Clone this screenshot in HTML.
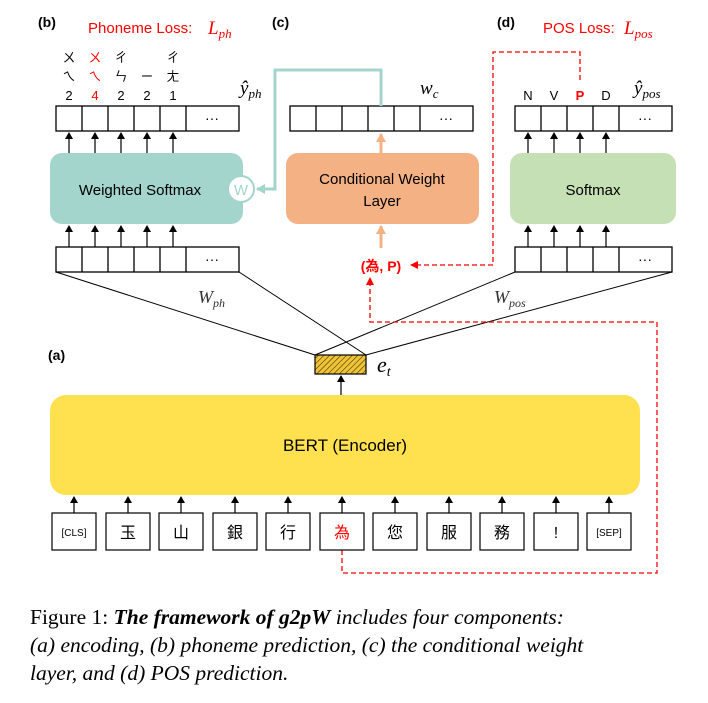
<!DOCTYPE html>
<html><head><meta charset="utf-8"><style>
body{margin:0;background:#fff;width:708px;height:703px;overflow:hidden}
svg{display:block}
.s{font-family:"Liberation Sans","Noto Sans CJK TC",sans-serif}
.m{font-family:"Liberation Serif",serif;font-style:italic}
</style></head><body>
<svg width="708" height="703" viewBox="0 0 708 703" xmlns="http://www.w3.org/2000/svg">
<defs>
<marker id="ab" markerUnits="userSpaceOnUse" markerWidth="7" markerHeight="8" refX="6" refY="4" orient="auto"><path d="M0,0 L7,4 L0,8z" fill="#000"/></marker>
<marker id="ar" markerUnits="userSpaceOnUse" markerWidth="8" markerHeight="8" refX="7" refY="4" orient="auto"><path d="M0,0 L8,4 L0,8z" fill="#f00"/></marker>
<marker id="ao" markerUnits="userSpaceOnUse" markerWidth="9" markerHeight="10" refX="8" refY="5" orient="auto"><path d="M0,0 L9,5 L0,10z" fill="#f4b183"/></marker>
<marker id="at" markerUnits="userSpaceOnUse" markerWidth="9" markerHeight="10" refX="8" refY="5" orient="auto"><path d="M0,0 L9,5 L0,10z" fill="#a3d5cc"/></marker>
<pattern id="h" width="4" height="4" patternUnits="userSpaceOnUse" patternTransform="rotate(45)"><rect width="4" height="4" fill="#f2c530"/><line x1="0" y1="0" x2="0" y2="4" stroke="#333" stroke-width="1.2"/></pattern>
</defs>
<g class="s" font-weight="bold" font-size="14">
<text x="38" y="27">(b)</text><text x="272" y="27">(c)</text><text x="497" y="27">(d)</text><text x="48" y="360">(a)</text>
</g>
<text x="88" y="33" class="s" font-size="15" fill="#f00">Phoneme Loss:</text>
<text x="208" y="34" class="m" font-size="19" fill="#f00">L<tspan font-size="13" dy="4">ph</tspan></text>
<text x="543" y="33" class="s" font-size="15" fill="#f00">POS Loss:</text>
<text x="624" y="34" class="m" font-size="19" fill="#f00">L<tspan font-size="13" dy="4">pos</tspan></text>
<g class="s" font-size="13" text-anchor="middle">
<text x="69" y="62">ㄨ</text><text x="69" y="81">ㄟ</text><text x="69" y="100">2</text>
<g fill="#f00"><text x="95" y="62">ㄨ</text><text x="95" y="81">ㄟ</text><text x="95" y="100">4</text></g>
<text x="121" y="62">ㄔ</text><text x="121" y="81">ㄣ</text><text x="121" y="100">2</text>
<text x="147" y="81">ㄧ</text><text x="147" y="100">2</text>
<text x="173" y="62">ㄔ</text><text x="173" y="81">ㄤ</text><text x="173" y="100">1</text>
<text x="528" y="100">N</text><text x="554" y="100">V</text><text x="580" y="100" fill="#f00" font-weight="bold">P</text><text x="606" y="100">D</text>
</g>
<text x="240" y="94" class="m" font-size="19">ŷ<tspan font-size="13" dy="4">ph</tspan></text>
<text x="420" y="94" class="m" font-size="19">w<tspan font-size="13" dy="4">c</tspan></text>
<text x="634" y="94" class="m" font-size="19">ŷ<tspan font-size="13" dy="4">pos</tspan></text>
<g fill="none" stroke="#000" stroke-width="1.3">
<rect x="56" y="106" width="183" height="25"/><path d="M82,106v25M108,106v25M134,106v25M160,106v25M186,106v25"/>
<rect x="56" y="247" width="183" height="25"/><path d="M82,247v25M108,247v25M134,247v25M160,247v25M186,247v25"/>
<rect x="290" y="106" width="183" height="25"/><path d="M316,106v25M342,106v25M368,106v25M394,106v25M420,106v25"/>
<rect x="515" y="106" width="157" height="25"/><path d="M541,106v25M567,106v25M593,106v25M619,106v25"/>
<rect x="515" y="247" width="157" height="25"/><path d="M541,247v25M567,247v25M593,247v25M619,247v25"/>
<path d="M56,272L315,355M239,272L366,355M515,272L315,355M672,272L366,355" stroke-width="1"/>
</g>
<g class="s" font-size="14" text-anchor="middle"><text x="212" y="123">···</text><text x="212" y="264">···</text><text x="446" y="123">···</text><text x="645" y="123">···</text><text x="645" y="264">···</text></g>
<rect x="50" y="153" width="193" height="71" rx="12" fill="#a3d5cc"/>
<text x="140" y="195" class="s" font-size="15" text-anchor="middle">Weighted Softmax</text>
<path d="M381,106V70H275V189H257" fill="none" stroke="#a3d5cc" stroke-width="3" marker-end="url(#at)"/>
<circle cx="241" cy="189" r="13" fill="#fff" stroke="#a3d5cc" stroke-width="2"/>
<text x="241" y="195" class="s" font-size="15" text-anchor="middle" fill="#a3d5cc">W</text>
<rect x="286" y="153" width="193" height="71" rx="12" fill="#f4b183"/>
<text x="382" y="184" class="s" font-size="15" text-anchor="middle">Conditional Weight</text>
<text x="382" y="206" class="s" font-size="15" text-anchor="middle">Layer</text>
<g stroke="#f4b183" stroke-width="3" marker-end="url(#ao)">
<line x1="381" y1="153" x2="381" y2="134"/><line x1="381" y1="248" x2="381" y2="226"/>
</g>
<rect x="510" y="153" width="166" height="71" rx="12" fill="#c5e0b4"/>
<text x="593" y="195" class="s" font-size="15" text-anchor="middle">Softmax</text>
<g stroke="#000" stroke-width="1.2" marker-end="url(#ab)">
<line x1="69" y1="153" x2="69" y2="133"/><line x1="95" y1="153" x2="95" y2="133"/><line x1="121" y1="153" x2="121" y2="133"/><line x1="147" y1="153" x2="147" y2="133"/><line x1="173" y1="153" x2="173" y2="133"/>
<line x1="69" y1="247" x2="69" y2="226"/><line x1="95" y1="247" x2="95" y2="226"/><line x1="121" y1="247" x2="121" y2="226"/><line x1="147" y1="247" x2="147" y2="226"/><line x1="173" y1="247" x2="173" y2="226"/>
<line x1="528" y1="153" x2="528" y2="133"/><line x1="554" y1="153" x2="554" y2="133"/><line x1="580" y1="153" x2="580" y2="133"/><line x1="606" y1="153" x2="606" y2="133"/>
<line x1="528" y1="247" x2="528" y2="226"/><line x1="554" y1="247" x2="554" y2="226"/><line x1="580" y1="247" x2="580" y2="226"/><line x1="606" y1="247" x2="606" y2="226"/>
<line x1="341" y1="395" x2="341" y2="376"/>
<line x1="74" y1="513" x2="74" y2="497"/><line x1="128" y1="513" x2="128" y2="497"/><line x1="181" y1="513" x2="181" y2="497"/><line x1="235" y1="513" x2="235" y2="497"/><line x1="288" y1="513" x2="288" y2="497"/><line x1="342" y1="513" x2="342" y2="497"/><line x1="395" y1="513" x2="395" y2="497"/><line x1="449" y1="513" x2="449" y2="497"/><line x1="502" y1="513" x2="502" y2="497"/><line x1="556" y1="513" x2="556" y2="497"/><line x1="609" y1="513" x2="609" y2="497"/>
</g>
<text x="381" y="271" class="s" font-size="14" font-weight="bold" fill="#f00" text-anchor="middle">(為, P)</text>
<g fill="none" stroke="#f00" stroke-width="1.3" stroke-dasharray="5,3">
<path d="M580,80V52H493V265H411" marker-end="url(#ar)"/>
<path d="M342,550V573H657V322H370V278" marker-end="url(#ar)"/>
</g>
<text x="198" y="303" class="m" font-size="18" fill="#333">W<tspan font-size="12" dy="4">ph</tspan></text>
<text x="494" y="303" class="m" font-size="18" fill="#333">W<tspan font-size="12" dy="4">pos</tspan></text>
<rect x="315" y="355" width="51" height="19" fill="url(#h)" stroke="#000" stroke-width="1.2"/>
<text x="377" y="372" class="m" font-size="22">e<tspan font-size="14" dy="4">t</tspan></text>
<rect x="50" y="395" width="590" height="100" rx="16" fill="#ffe150"/>
<text x="345" y="451" class="s" font-size="17" text-anchor="middle">BERT (Encoder)</text>
<g fill="#fff" stroke="#000" stroke-width="1.2">
<rect x="52" y="513" width="44" height="37"/><rect x="106" y="513" width="44" height="37"/><rect x="159" y="513" width="44" height="37"/><rect x="213" y="513" width="44" height="37"/><rect x="266" y="513" width="44" height="37"/><rect x="320" y="513" width="44" height="37"/><rect x="373" y="513" width="44" height="37"/><rect x="427" y="513" width="44" height="37"/><rect x="480" y="513" width="44" height="37"/><rect x="534" y="513" width="44" height="37"/><rect x="587" y="513" width="44" height="37"/>
</g>
<g class="s" font-size="16" text-anchor="middle">
<text x="74" y="536" font-size="10">[CLS]</text><text x="128" y="538">玉</text><text x="181" y="538">山</text><text x="235" y="538">銀</text><text x="288" y="538">行</text><text x="342" y="538" fill="#f00">為</text><text x="395" y="538">您</text><text x="449" y="538">服</text><text x="502" y="538">務</text><text x="556" y="538">!</text><text x="609" y="536" font-size="10">[SEP]</text>
</g>
<g font-family="Liberation Serif,serif" font-size="21.5">
<text x="30" y="624">Figure 1: <tspan font-style="italic" font-weight="bold">The framework of g2pW</tspan><tspan font-style="italic"> includes four components:</tspan></text>
<text x="30" y="652" font-style="italic">(a) encoding, (b) phoneme prediction, (c) the conditional weight</text>
<text x="30" y="680" font-style="italic">layer, and (d) POS prediction.</text>
</g>
</svg>
</body></html>
